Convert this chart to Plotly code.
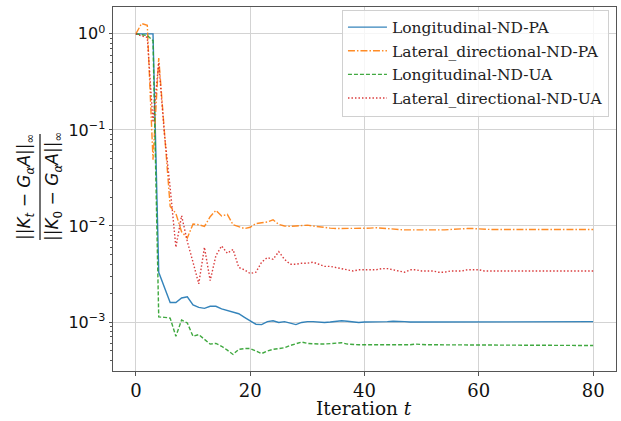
import plotly.graph_objects as go
import numpy as np

iterations = list(range(81))

long_nd_pa = [1.0, 1.0, 0.99, 1.0, 0.0033, 0.0023, 0.0016, 0.0016, 0.00178, 0.00183,
              0.00151, 0.00142, 0.00139, 0.00146, 0.00146, 0.00137, 0.00131, 0.00127, 0.00122, 0.00112,
              0.00103, 0.00095, 0.00094, 0.00101, 0.00103, 0.00099, 0.00101, 0.00097, 0.00094, 0.00099,
              0.00101, 0.00101, 0.00100, 0.00099, 0.00100, 0.00102, 0.00103, 0.00102, 0.00100, 0.00099,
              0.00100, 0.00100, 0.00100, 0.00101, 0.00101, 0.00102, 0.00102, 0.00101, 0.00100, 0.00100,
              0.00100, 0.00100, 0.00100, 0.00100, 0.00100, 0.00100, 0.00100, 0.00100, 0.00100, 0.00101,
              0.00101, 0.00101, 0.00101, 0.00101, 0.00101, 0.00101, 0.00101, 0.00101, 0.00101, 0.00101,
              0.00101, 0.00101, 0.00101, 0.00101, 0.00101, 0.00101, 0.00101, 0.00101, 0.00101, 0.00101,
              0.00101]

lat_nd_pa = [1.0, 1.28, 1.23, 0.049, 0.56, 0.085, 0.016, 0.0135, 0.0087, 0.0075,
             0.0105, 0.0103, 0.0099, 0.0125, 0.0145, 0.0127, 0.0132, 0.0103, 0.0098, 0.0094,
             0.0097, 0.0106, 0.0108, 0.0110, 0.0116, 0.0104, 0.0100, 0.0099, 0.0100, 0.0101,
             0.0102, 0.0100, 0.0098, 0.0096, 0.0095, 0.0094, 0.0094, 0.0094, 0.0094, 0.0094,
             0.0094, 0.0095, 0.0096, 0.0095, 0.0093, 0.0092, 0.0091, 0.0091, 0.0091, 0.0091,
             0.0090, 0.0090, 0.0090, 0.0090, 0.0091, 0.0092, 0.0093, 0.0094, 0.0094, 0.0094,
             0.0093, 0.0092, 0.0092, 0.0092, 0.0092, 0.0092, 0.0093, 0.0093, 0.0093, 0.0093,
             0.0093, 0.0092, 0.0092, 0.0092, 0.0092, 0.0092, 0.0092, 0.0092, 0.0092, 0.0092,
             0.0092]

long_nd_ua = [1.0, 0.98, 0.96, 0.85, 0.00113, 0.00112, 0.00110, 0.00071, 0.00105, 0.00098,
              0.00071, 0.00074, 0.00066, 0.00059, 0.00060, 0.00056, 0.00051, 0.00046, 0.00052, 0.00053,
              0.00053, 0.00050, 0.00047, 0.00050, 0.00052, 0.00053, 0.00054, 0.00057, 0.00060, 0.00062,
              0.00060, 0.00059, 0.00059, 0.00059, 0.00060, 0.00060, 0.00061, 0.00059, 0.00058, 0.00058,
              0.00058, 0.00058, 0.00057, 0.00057, 0.00057, 0.00057, 0.00057, 0.00058, 0.00058, 0.00059,
              0.00058, 0.00058, 0.00058, 0.00058, 0.00058, 0.00058, 0.00058, 0.00058, 0.00058, 0.00058,
              0.00058, 0.00058, 0.00058, 0.00058, 0.00058, 0.00057, 0.00057, 0.00057, 0.00057, 0.00057,
              0.00057, 0.00057, 0.00057, 0.00057, 0.00057, 0.00057, 0.00057, 0.00057, 0.00057, 0.00057,
              0.00057]

lat_nd_ua = [1.0, 0.95, 0.92, 0.12, 0.5, 0.09, 0.025, 0.006, 0.0128, 0.0069,
             0.0042, 0.0025, 0.0060, 0.0027, 0.0049, 0.0062, 0.0052, 0.0057, 0.0037, 0.0035,
             0.0032, 0.0033, 0.0042, 0.0047, 0.0045, 0.0054, 0.0045, 0.0040, 0.0040, 0.0041,
             0.0041, 0.0042, 0.0040, 0.0038, 0.0038, 0.0037, 0.0036, 0.0035, 0.0034, 0.0035,
             0.0035, 0.0035, 0.0035, 0.0036, 0.0036, 0.0035, 0.0034, 0.0033, 0.0035, 0.0035,
             0.0034, 0.0034, 0.0034, 0.0033, 0.0033, 0.0034, 0.0034, 0.0034, 0.0035, 0.0035,
             0.0035, 0.0034, 0.0034, 0.0034, 0.0034, 0.0034, 0.0034, 0.0034, 0.0034, 0.0034,
             0.0034, 0.0034, 0.0034, 0.0034, 0.0034, 0.0034, 0.0034, 0.0034, 0.0034, 0.0034,
             0.0034]

series_names = ["Longitudinal-ND-PA", "Lateral_directional-ND-PA",
                "Longitudinal-ND-UA", "Lateral_directional-ND-UA"]
series_values = [long_nd_pa, lat_nd_pa, long_nd_ua, lat_nd_ua]
series_colors = ["#1f77b4", "#ff7f0e", "#2ca02c", "#d62728"]
series_dash = ["solid", "7px,2px,1.5px,2px", "4px,2px", "1.5px,2px"]

x_ticks = [0, 20, 40, 60, 80]
x_title = "Iteration <i>t</i>"
y_tickvals = [1e-3, 1e-2, 1e-1, 1e0]
y_ticktext = ["10<sup>−3</sup>", "10<sup>−2</sup>", "10<sup>−1</sup>", "10<sup>0</sup>"]

fig = go.Figure()
for i, (name, vals, col, dash) in enumerate(zip(series_names, series_values, series_colors, series_dash)):
    fig.add_trace(go.Scatter(x=iterations, y=vals, mode="lines", name=name, legendgroup=f"g{i}",
                             line=dict(color=col, width=1.4, dash=dash), opacity=0.9))

allv = np.concatenate([np.array(v) for v in series_values])
lo, hi = np.log10(allv.min()), np.log10(allv.max())
m = 0.05 * (hi - lo)
yr = [lo - m, hi + m]
xm = 0.05 * (max(iterations) - min(iterations))
xr = [min(iterations) - xm, max(iterations) + xm]

minor_vals = [k * 10.0 ** e for e in range(-4, 1) for k in range(2, 10)]

L, R, T, B = 113, 5, 7, 50
W, H = 621, 421

fig.update_layout(
    width=W, height=H,
    margin=dict(l=L, r=R, t=T, b=B),
    plot_bgcolor="white", paper_bgcolor="white",
    showlegend=True,
    legend=dict(x=0.986, y=0.993, xanchor="right", yanchor="top",
                bgcolor="rgba(255,255,255,0.8)", bordercolor="#d0d0d0", borderwidth=1,
                font=dict(family="DejaVu Serif", size=15.5, color="#222"),
                tracegroupgap=0.5, itemwidth=39),
    xaxis=dict(range=xr, tickvals=x_ticks, showgrid=True, gridcolor="#d3d3d3", gridwidth=1,
               zeroline=False, showline=True, linecolor="#555", linewidth=1, mirror=True,
               ticks="outside", ticklen=3.5, tickcolor="#555",
               tickfont=dict(family="DejaVu Serif", size=18, color="#111")),
    yaxis=dict(type="log", range=yr, tickvals=y_tickvals, ticktext=y_ticktext,
               showgrid=True, gridcolor="#d3d3d3", gridwidth=1, zeroline=False,
               showline=True, linecolor="#555", linewidth=1, mirror=True,
               ticks="outside", ticklen=3.5, tickcolor="#555",
               tickfont=dict(family="DejaVu Sans", size=16, color="#111"),
               minor=dict(tickvals=minor_vals, ticks="outside", ticklen=2, tickcolor="#555", showgrid=False)),
)

pw = W - L - R
ph = H - T - B
def px_x(px):
    return (px - L) / pw
def px_y(py):
    return (H - B - py) / ph

fig.add_annotation(x=px_x(364), y=px_y(421), xref="paper", yref="paper", text=x_title,
                   showarrow=False, xanchor="center", yanchor="bottom",
                   font=dict(family="DejaVu Serif", size=18.5, color="#111"))

num = "||<i>K</i><sub><i>t</i></sub> − <i>G</i><sub><i>α</i></sub><i>A</i>||<sub>∞</sub>"
den = "||<i>K</i><sub>0</sub> − <i>G</i><sub><i>α</i></sub><i>A</i>||<sub>∞</sub>"
fig.add_annotation(x=px_x(25), y=px_y(187), xref="paper", yref="paper", text=num, textangle=-90,
                   showarrow=False, xanchor="center", yanchor="middle",
                   font=dict(family="DejaVu Sans", size=17, color="#111"))
fig.add_annotation(x=px_x(53), y=px_y(187), xref="paper", yref="paper", text=den, textangle=-90,
                   showarrow=False, xanchor="center", yanchor="middle",
                   font=dict(family="DejaVu Sans", size=17, color="#111"))
fig.add_shape(type="line", xref="paper", yref="paper", x0=px_x(40), x1=px_x(40),
              y0=px_y(240), y1=px_y(134), line=dict(color="#111", width=1.2))

fig.write_html("out.html", post_script="document.body.style.margin='0';",
               config={"displayModeBar": False})
